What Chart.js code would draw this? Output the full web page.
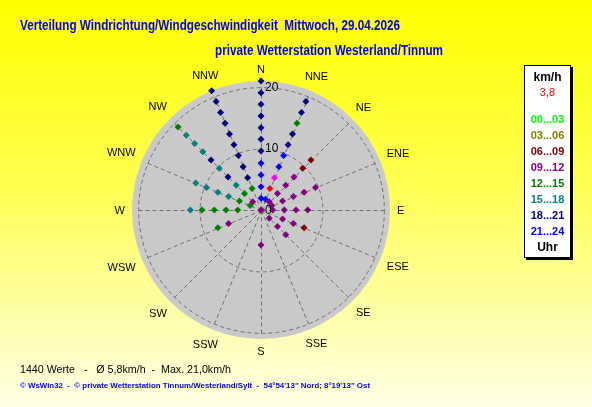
<!DOCTYPE html>
<html><head><meta charset="utf-8">
<script src="https://cdn.jsdelivr.net/npm/chart.js@4.4.1/dist/chart.umd.min.js"></script>
<style>
html,body{margin:0;padding:0;}
body{width:592px;height:407px;overflow:hidden;position:relative;
 background:linear-gradient(to bottom,#ffff00 0%,#ffff50 45%,#ffffe8 100%);
 font-family:"Liberation Sans",Arial,sans-serif;}
canvas{position:absolute;left:0;top:0;}
.t{position:absolute;white-space:pre;transform-origin:0 50%;line-height:1;transform:translateY(-50%);}
.title{font-weight:bold;font-size:14px;color:#0000f0;}
#legend{position:absolute;left:524px;top:65px;width:45px;height:191px;background:#fff;border:1px solid #000;box-shadow:2px 2px 0 #000;}
.lg{position:absolute;left:0;width:45px;text-align:center;font-weight:bold;font-size:11px;line-height:1;transform:translateY(-50%);}
</style></head>
<body>
<canvas id="c" width="592" height="407"></canvas>
<div class="t title" id="t1" style="left:20px;top:25px;">Verteilung Windrichtung/Windgeschwindigkeit  Mittwoch, 29.04.2026</div>
<div class="t title" id="t2" style="left:215px;top:50px;">private Wetterstation Westerland/Tinnum</div>
<div class="t" id="f1" style="left:20px;top:369px;font-size:11px;color:#000;">1440 Werte   -   Ø 5,8km/h  -  Max. 21,0km/h</div>
<div class="t" id="f2" style="left:20px;top:386px;font-size:8px;font-weight:bold;color:#0000f0;">© WsWin32  -  © private Wetterstation Tinnum/Westerland/Sylt  -  54°54'13" Nord; 8°19'13" Ost</div>
<div id="legend"></div>
<script>
// ---- data ----
const directions = ['N','NNE','NE','ENE','E','ESE','SE','SSE','S','SSW','SW','WSW','W','WNW','NW','NNW'];
const slotLabels = ['00...03','03...06','06...09','09...12','12...15','15...18','18...21','21...24'];
const currentSpeed = '3,8';
const radialTicks = [0, 10, 20];
// [direction, km/h]
const h00_03 = [];
const h03_06 = [];
const h06_09 = [['NE',11.5],['NE',9.6],['ESE',7.6]];
const h09_12 = [['N',0],['NE',7.6],['NE',5.7],['NE',3.8],['NE',1.9],['ENE',9.6],['ENE',7.6],['ENE',5.7],['ENE',3.8],['ENE',1.9],
  ['E',7.6],['E',5.7],['E',3.8],['E',1.9],['ESE',5.7],['ESE',3.8],['SE',5.7],['SE',3.8],['SE',1.9],['S',5.7],['WSW',5.7],['NW',1.9]];
const h12_15 = [['NNE',15.3],['WSW',7.6],['W',9.6],['W',7.6],['W',5.7],['W',3.8],['WNW',3.8],['WNW',1.9],['NW',19.1],['NW',3.8],['NNW',3.8]];
const h15_18 = [['W',11.5],['WNW',11.5],['WNW',9.6],['WNW',7.6],['WNW',5.7],['NW',17.2],['NW',15.3],['NW',13.4],['NW',9.6],['NW',5.7]];
const h18_21 = [['N',21.0],['N',19.1],['N',17.2],['N',15.3],['N',13.4],['N',11.5],['N',9.6],
  ['NNE',19.1],['NNE',17.2],['NNE',13.4],['NNE',11.5],['NW',11.5],['NW',7.6],
  ['NNW',21.0],['NNW',19.1],['NNW',17.2],['NNW',15.3],['NNW',13.4],['NNW',11.5],['NNW',9.6],['NNW',7.6],['NNW',5.7]];
const h21_24 = [['N',7.6],['N',5.7],['N',3.8],['N',1.9],['NNE',9.6],['NNE',7.6],['NNE',1.9]];
const highlightPoint = [['NNE',5.7]];
const currentPoint = [['NNE',3.8]];

// ---- styles ----
const slotColors = ['#00ff00','#808000','#800000','#800080','#008000','#008080','#000080','#0000ff'];
const seriesList = [h00_03,h03_06,h06_09,h09_12,h12_15,h15_18,h18_21,h21_24];

function toDatasets(pts, color){
  const groups = [];
  pts.forEach(([dir, v]) => {
    const i = directions.indexOf(dir);
    let g = groups.find(a => a[i] === null);
    if (!g) { g = new Array(directions.length).fill(null); groups.push(g); }
    g[i] = v;
  });
  return groups.map(g => ({
    data: g, showLine: false, borderWidth: 0, backgroundColor: 'transparent', fill: false,
    pointStyle: 'rectRot', pointRadius: 3.5, pointHoverRadius: 3.5,
    pointBackgroundColor: color, pointBorderColor: color, pointBorderWidth: 0,
    clip: false, spanGaps: false
  }));
}
let datasets = [];
seriesList.forEach((s, k) => { datasets = datasets.concat(toDatasets(s, slotColors[k])); });
datasets = datasets.concat(toDatasets(highlightPoint, '#ff00ff'), toDatasets(currentPoint, '#ff0000'));

const decor = {
  id: 'decor',
  beforeDatasetsDraw(chart){
    const s = chart.scales.r, ctx = chart.ctx;
    ctx.save();
    ctx.strokeStyle = '#6e6e6e'; ctx.lineWidth = 1; ctx.setLineDash([4,3]);
    radialTicks.filter(v => v > 0).forEach(v => {
      ctx.beginPath();
      ctx.arc(s.xCenter + 0.5, s.yCenter + 0.5, s.getDistanceFromCenterForValue(v), 0, Math.PI * 2);
      ctx.stroke();
    });
    for (let i = 0; i < chart.data.labels.length; i++) {
      const p = s.getPointPositionForValue(i, 20.2);
      ctx.beginPath(); ctx.moveTo(s.xCenter + 0.5, s.yCenter + 0.5); ctx.lineTo(p.x + 0.5, p.y + 0.5); ctx.stroke();
    }
    ctx.restore();
  },
  afterDraw(chart){
    const s = chart.scales.r, ctx = chart.ctx;
    ctx.save();
    ctx.fillStyle = '#000';
    ctx.font = '11px "Liberation Sans", Arial, sans-serif';
    ctx.textAlign = 'center'; ctx.textBaseline = 'middle';
    chart.data.labels.forEach((lab, i) => {
      const a = s.getIndexAngle(i);
      const w = ctx.measureText(lab).width;
      const d = s.drawingArea + 7 + Math.abs(Math.sin(a)) * w / 2 + Math.abs(Math.cos(a)) * 5;
      const p = s.getPointPosition(i, d);
      ctx.fillText(lab, p.x, p.y + 0.5);
    });
    ctx.font = '12px "Liberation Sans", Arial, sans-serif';
    ctx.textAlign = 'left';
    radialTicks.forEach(v => {
      const y = s.yCenter - s.getDistanceFromCenterForValue(v);
      ctx.fillText(String(v), s.xCenter + 4, y + 0.5);
    });
    ctx.restore();
  }
};

new Chart(document.getElementById('c'), {
  type: 'radar',
  data: { labels: directions, datasets },
  options: {
    responsive: false, animation: false, events: [],
    layout: { padding: { left: 132, top: 81, right: 201, bottom: 67 } },
    plugins: { legend: { display: false }, tooltip: { enabled: false }, title: { display: false } },
    scales: {
      r: {
        min: 0, max: 21, startAngle: 0,
        backgroundColor: '#cacaca',
        ticks: { display: false, stepSize: 10, includeBounds: false },
        grid: { display: false, circular: true },
        angleLines: { display: false },
        pointLabels: { display: false }
      }
    }
  },
  plugins: [decor]
});

// legend box
const lg = document.getElementById('legend');
function addLg(text, y, color, bold){
  const d = document.createElement('div'); d.className = 'lg'; d.textContent = text;
  d.style.top = (y - 65) + 'px'; d.style.color = color;
  if (!bold) d.style.fontWeight = 'normal';
  if (text === 'km/h' || text === 'Uhr') d.style.fontSize = '12px';
  lg.appendChild(d);
}
addLg('km/h', 75.5, '#000', true);
addLg(currentSpeed, 90.5, '#ff0000', false);
const lgY = [117.5,133.5,149.5,165.5,181.5,197.5,213.5,229.5];
slotLabels.forEach((t, k) => addLg(t, lgY[k], slotColors[k], true));
addLg('Uhr', 246, '#000', true);

function fit(id, w){
  const el = document.getElementById(id);
  const r = el.getBoundingClientRect();
  el.style.transform = 'translateY(-50%) scaleX(' + (w / r.width) + ')';
}
fit('t1', 380); fit('t2', 228); fit('f1', 211); fit('f2', 350);
</script>
</body></html>
